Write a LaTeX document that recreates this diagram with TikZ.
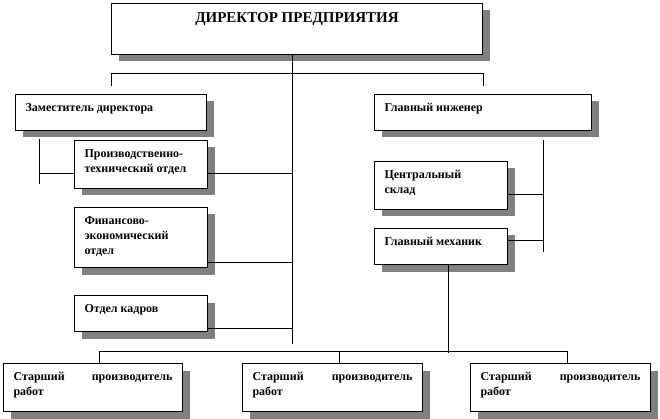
\documentclass[tikz,border=0pt]{standalone}
\usepackage{fontspec}
\setmainfont{Liberation Serif}
\usetikzlibrary{shadows}
\definecolor{shadowgray}{HTML}{808080}
\tikzset{unit/.style={draw, line width=1pt, fill=white, anchor=north west, inner xsep=10pt, inner ysep=9pt,
    general shadow={fill=shadowgray, shadow xshift=7pt, shadow yshift=-7pt},
    font=\bfseries\fontsize{12}{15}\selectfont}}
\tikzset{link/.style={line width=0.8pt}}
\newcommand{\cell}[3]{\parbox[t][#2][t]{#1}{#3}}

\begin{document}
\begin{tikzpicture}[x=1pt, y=-1pt]
\useasboundingbox (0,0) rectangle (660,419);
% Top level
\node[unit] (director) at (111,3) {\cell{351pt}{33pt}{\centering\fontsize{15}{18}\selectfont ДИРЕКТОР ПРЕДПРИЯТИЯ}};
\node[unit] (deputy) at (15,94) {\cell{171pt}{18pt}{Заместитель директора}};
\node[unit] (engineer) at (374,94) {\cell{197pt}{18pt}{Главный инженер}};
% Departments under the deputy
\node[unit] (pto) at (74,140) {\cell{113pt}{30pt}{Производственно-\\технический отдел}};
\node[unit] (feo) at (74,207) {\cell{113pt}{42pt}{Финансово-\\экономический\\отдел}};
\node[unit] (staff) at (74,295) {\cell{113pt}{18pt}{Отдел кадров}};
% Under the chief engineer
\node[unit] (store) at (374,161) {\cell{113pt}{30pt}{Центральный\\склад}};
\node[unit] (mechanic) at (374,228) {\cell{113pt}{18pt}{Главный механик}};
% Foremen
\node[unit] (foreman1) at (3,363) {\cell{159pt}{30pt}{Старший производитель\linebreak работ}};
\node[unit] (foreman2) at (242,363) {\cell{160pt}{30pt}{Старший производитель\linebreak работ}};
\node[unit] (foreman3) at (470,363) {\cell{160pt}{30pt}{Старший производитель\linebreak работ}};

% Bus under the director
\coordinate (top left) at (111,73);
\coordinate (top right) at (483,73);
\draw[link] (top left) -- (top right);
\draw[link] (top left) -- ++(0,13);
\draw[link] (top right) -- ++(0,13);
% Main spine
\coordinate (spine) at (292,344);
\draw[link] (spine |- director.south) -- (spine);
\coordinate (s1) at (292,173);
\coordinate (s2) at (292,262);
\coordinate (s3) at (292,328);
\draw[link] (s1) -- (s1 -| pto.east);
\draw[link] (s2) -- (s2 -| feo.east);
\draw[link] (s3) -- (s3 -| staff.east);
% Left bus of the deputy
\coordinate (left bus) at (39,173);
\draw[link] (39,139) -- (39,184);
\draw[link] (left bus) -- (left bus -| pto.west);
% Right bus of the chief engineer
\coordinate (r1) at (543,194);
\coordinate (r2) at (543,240);
\draw[link] (543,140) -- (543,252);
\draw[link] (r1) -- (r1 -| store.east);
\draw[link] (r2) -- (r2 -| mechanic.east);
% Drop from the mechanic
\coordinate (drop) at (448,353);
\draw[link] (drop |- mechanic.south) -- (drop);
% Bus over the foremen
\coordinate (bus left) at (99,351);
\coordinate (bus mid) at (339,351);
\coordinate (bus right) at (567,351);
\draw[link] (bus left) -- (bus right);
\draw[link] (bus left) -- (bus left |- foreman1.north);
\draw[link] (bus mid) -- (bus mid |- foreman2.north);
\draw[link] (bus right) -- (bus right |- foreman3.north);
\end{tikzpicture}
\end{document}
